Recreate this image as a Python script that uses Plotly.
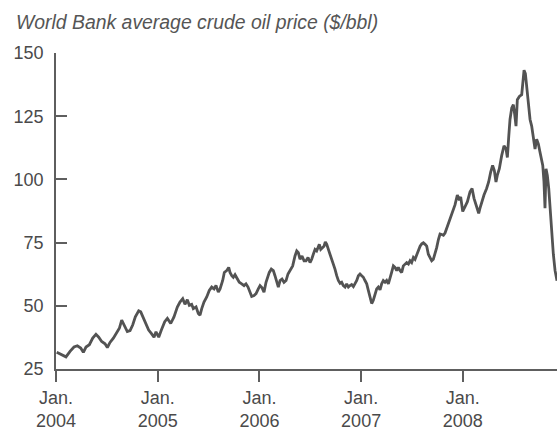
import plotly.graph_objects as go

# Decimal year (x) and World Bank average crude oil price in $/bbl (y)
years = [
    2004.007, 2004.056, 2004.098, 2004.138, 2004.177, 2004.210, 2004.243, 2004.269, 2004.295, 2004.328,
    2004.361, 2004.393, 2004.420, 2004.449, 2004.482, 2004.505, 2004.531, 2004.564, 2004.597, 2004.623,
    2004.646, 2004.675, 2004.701, 2004.728, 2004.754, 2004.780, 2004.813, 2004.833, 2004.859, 2004.885,
    2004.911, 2004.937, 2004.964, 2004.983, 2005.010, 2005.036, 2005.069, 2005.095, 2005.128, 2005.160,
    2005.193,
    2005.219, 2005.246, 2005.268, 2005.291, 2005.311, 2005.334, 2005.350, 2005.377, 2005.399, 2005.416,
    2005.433, 2005.455, 2005.482, 2005.507, 2005.531, 2005.554, 2005.573, 2005.596, 2005.613, 2005.639,
    2005.655, 2005.678, 2005.698, 2005.711, 2005.728, 2005.743, 2005.760, 2005.783, 2005.802, 2005.826,
    2005.849, 2005.868, 2005.888, 2005.908, 2005.924, 2005.947, 2005.967, 2005.989, 2006.006, 2006.026,
    2006.045, 2006.065, 2006.078, 2006.097, 2006.117, 2006.137, 2006.153, 2006.170, 2006.186, 2006.203,
    2006.222, 2006.242, 2006.262, 2006.281, 2006.301, 2006.327, 2006.350, 2006.367, 2006.383, 2006.399,
    2006.419, 2006.439, 2006.458, 2006.478,
    2006.498, 2006.514, 2006.530, 2006.547, 2006.563, 2006.580, 2006.589, 2006.603, 2006.622, 2006.635,
    2006.648, 2006.662, 2006.678, 2006.694, 2006.711, 2006.727, 2006.743, 2006.760, 2006.776, 2006.793,
    2006.809, 2006.825, 2006.842, 2006.858, 2006.875, 2006.891, 2006.907, 2006.924, 2006.940, 2006.957,
    2006.973, 2006.989, 2007.006, 2007.022, 2007.038, 2007.055, 2007.071, 2007.088, 2007.104, 2007.120,
    2007.137, 2007.153, 2007.169, 2007.186, 2007.202, 2007.218, 2007.235, 2007.251, 2007.268, 2007.284,
    2007.300, 2007.317, 2007.333, 2007.350, 2007.366, 2007.383, 2007.399, 2007.415, 2007.432, 2007.448,
    2007.465, 2007.481, 2007.497, 2007.514, 2007.530, 2007.547, 2007.563, 2007.580, 2007.596, 2007.612,
    2007.629, 2007.645, 2007.661, 2007.678, 2007.694, 2007.710, 2007.727, 2007.743, 2007.760, 2007.776,
    2007.793, 2007.809, 2007.825, 2007.842, 2007.858, 2007.874,
    2007.923, 2007.946, 2007.966, 2007.979, 2007.999, 2008.022, 2008.045, 2008.071, 2008.091, 2008.110,
    2008.136, 2008.156, 2008.169, 2008.186, 2008.208, 2008.234, 2008.254, 2008.274, 2008.293, 2008.310,
    2008.326, 2008.339, 2008.359, 2008.382, 2008.405, 2008.425, 2008.438, 2008.452, 2008.464, 2008.481,
    2008.497, 2008.510, 2008.523, 2008.536, 2008.556, 2008.579, 2008.589, 2008.602, 2008.615, 2008.628,
    2008.644, 2008.661, 2008.677, 2008.694, 2008.710, 2008.726, 2008.743, 2008.759, 2008.786, 2008.798,
    2008.808, 2008.818, 2008.831, 2008.845, 2008.857, 2008.874, 2008.890, 2008.907, 2008.926,
]
prices = [
    31.6, 30.7, 29.8, 32.0, 33.7, 34.2, 33.3, 31.6, 33.7, 34.6,
    37.2, 38.7, 37.6, 35.9, 35.0, 33.5, 35.5, 37.2, 39.1, 41.1,
    44.3, 41.7, 39.8, 40.2, 42.4, 45.6, 48.0, 47.6, 45.0, 42.8,
    40.4, 39.1, 37.6, 39.7, 37.6, 40.4, 43.7, 45.0, 43.0, 45.6,
    49.5,
    51.5, 52.8, 50.6, 52.4, 50.2, 50.6, 48.9, 49.6, 47.0, 46.3,
    48.9, 51.5, 53.5, 56.1, 57.4, 56.7, 58.0, 55.4, 56.7, 60.0,
    63.2, 63.9, 65.2, 63.2, 61.9, 61.3, 62.3, 60.6, 59.3, 58.7,
    58.0, 58.7, 57.4, 55.4, 53.7, 54.1, 54.8, 56.7, 58.0, 57.1,
    55.4, 59.3, 61.3, 63.2, 64.5, 63.9, 61.9, 59.3, 57.4, 60.0,
    60.6, 59.3, 60.0, 62.6, 63.9, 65.8, 69.7, 71.7, 71.0, 68.4,
    69.7, 67.8, 67.8, 69.1,
    67.1, 68.4, 70.4, 72.3, 71.7, 73.0, 74.3, 72.3, 73.0, 73.6,
    75.3, 74.3, 72.3, 70.4, 69.1, 67.1, 64.5, 61.9, 60.0, 58.9,
    59.3, 58.0, 57.4, 58.7, 57.4, 58.0, 58.4, 57.6, 58.7, 60.0,
    61.9, 62.6, 61.9, 61.3, 60.0, 58.7, 56.1, 52.8, 50.9, 52.2,
    54.8, 56.7, 57.4, 56.3, 58.7, 60.0, 59.3, 60.0, 58.7, 60.6,
    63.2, 65.8, 65.2, 63.9, 65.2, 63.9, 63.2, 65.8, 66.5, 67.1,
    66.5, 67.8, 67.1, 69.1, 68.4, 70.4, 71.7, 73.6, 74.5, 74.9,
    74.3, 73.6, 70.4, 69.1, 67.8, 68.4, 70.4, 73.0, 76.2, 78.4,
    78.2, 77.9, 78.8, 80.8, 82.7, 84.7,
    89.9, 93.8, 91.8, 93.1, 87.3, 89.2, 91.2, 95.1, 96.4, 92.5,
    88.6, 86.6, 88.6, 91.2, 93.8, 96.4, 99.0, 102.9, 105.5, 103.5,
    99.0, 101.6, 104.2, 109.4, 113.3, 112.0, 108.7, 117.2, 123.7, 128.3,
    129.6, 125.7, 121.1, 131.5, 132.8, 133.5, 136.7, 143.2, 141.9, 136.7,
    128.9, 123.7, 121.1, 117.2, 112.0, 115.9, 114.0, 110.7, 105.5, 99.0,
    88.6, 104.2, 101.6, 96.4, 88.6, 78.2, 70.4, 63.9, 59.9,
]

x_tick_vals = [2004, 2005, 2006, 2007, 2008]
x_tick_text = ["Jan.<br>2004", "Jan.<br>2005", "Jan.<br>2006", "Jan.<br>2007", "Jan.<br>2008"]
y_tick_vals = [25, 50, 75, 100, 125, 150]
title_text = "World Bank average crude oil price ($/bbl)"

FONT = "Liberation Sans, Arial, Helvetica, sans-serif"
AXIS = "#5e5e5e"
TEXT = "#4a4a4a"

fig = go.Figure(
    go.Scatter(
        x=years, y=prices, mode="lines",
        line=dict(color="#535353", width=2.8),
        hoverinfo="skip",
    )
)

fig.update_layout(
    width=557, height=431,
    margin=dict(l=56, r=0, t=53, b=58),
    paper_bgcolor="white", plot_bgcolor="white",
    showlegend=False,
    font=dict(family=FONT, color=TEXT),
    annotations=[dict(
        text="<i>" + title_text + "</i>",
        xref="paper", yref="paper",
        x=-0.0838, y=1.099, xanchor="left", yanchor="middle",
        showarrow=False,
        font=dict(family=FONT, size=19.4, color="#555555"),
    )],
)

fig.update_xaxes(
    range=[2004, 2008.926],
    tickmode="array", tickvals=x_tick_vals, ticktext=x_tick_text,
    ticks="outside", ticklen=11, tickwidth=1.5, tickcolor=AXIS,
    showline=True, linecolor=AXIS, linewidth=1.8,
    showgrid=False, zeroline=False,
    tickfont=dict(family=FONT, size=18, color=TEXT),
    fixedrange=True,
)
fig.update_yaxes(
    range=[25, 150],
    tickmode="array", tickvals=y_tick_vals,
    ticks="inside", ticklen=11, tickwidth=1.5, tickcolor=AXIS,
    showline=True, linecolor=AXIS, linewidth=1.8,
    showgrid=False, zeroline=False,
    tickfont=dict(family=FONT, size=18, color=TEXT),
    ticklabelstandoff=7,
    fixedrange=True,
)

fig.write_html(
    "out.html",
    config={"displayModeBar": False},
    post_script="document.body.style.margin='0px';",
)
